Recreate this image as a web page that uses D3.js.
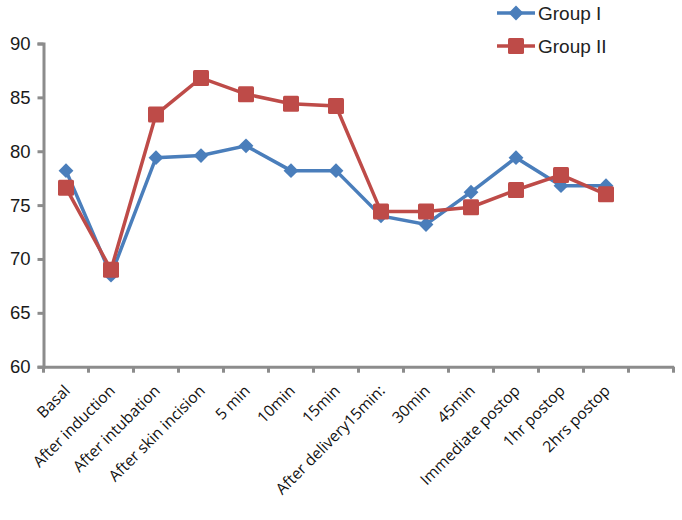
<!DOCTYPE html>
<html><head><meta charset="utf-8">
<script src="https://cdn.jsdelivr.net/npm/d3@7"></script>
<style>body{margin:0;background:#fff}</style>
</head><body>
<svg id="c" width="682" height="520"></svg>
<script>
const categories = ["Basal","After induction","After intubation","After skin incision","5 min","10min","15min","After delivery15min:","30min","45min","Immediate postop","1hr postop","2hrs postop",""];
const group1 = [78.2,68.5,79.4,79.6,80.5,78.2,78.2,74.0,73.2,76.2,79.4,76.8,76.8];
const group2 = [76.6,69.0,83.4,86.8,85.3,84.4,84.2,74.4,74.4,74.8,76.4,77.8,76.0];
const yTicks = [60,65,70,75,80,85,90];

const svg = d3.select("#c");
const x = d3.scaleBand().domain(categories.map((d,i)=>i)).range([43.5,673.5]);
const y = d3.scaleLinear().domain([60,90]).range([366.7,43.5]);
const axisColor = "#8c8c8c";

// y axis
const ya = svg.append("g").attr("transform","translate(43.5,0)")
  .call(d3.axisLeft(y).tickValues(yTicks).tickSize(6).tickPadding(7));
ya.select(".domain").attr("stroke",axisColor).attr("stroke-width",3);
ya.selectAll(".tick line").attr("stroke",axisColor).attr("stroke-width",3);
ya.selectAll(".tick text").attr("font-family","Liberation Sans, Arial, sans-serif").attr("font-size",18.5).attr("fill","#1a1a1a");

// x axis
const xa = svg.append("g").attr("transform","translate(0,366.7)")
  .call(d3.axisBottom(x).tickValues([]).tickSizeOuter(0));
xa.select(".domain").attr("stroke",axisColor).attr("stroke-width",3);
const edges = d3.range(categories.length+1).map(i=> i<categories.length ? x(i) : x(categories.length-1)+x.bandwidth());
xa.selectAll("line.edge").data(edges).enter().append("line")
  .attr("x1",d=>d).attr("x2",d=>d).attr("y1",0).attr("y2",6)
  .attr("stroke",axisColor).attr("stroke-width",3);
xa.selectAll("text.lab").data(categories).enter().append("text")
  .attr("transform",(d,i)=>`translate(${x(i)+x.bandwidth()/2+5},${25}) rotate(-45)`)
  .attr("text-anchor","end")
  .attr("font-family","Open Sans, Liberation Sans, sans-serif")
  .attr("font-size",15.6).attr("fill","#111").text(d=>d);

const cx = i => x(i)+x.bandwidth()/2;
const line = d3.line().x((d,i)=>cx(i)).y(d=>y(d));
const blue = "#4a7ebb", red = "#be4b48";

svg.append("path").datum(group1).attr("d",line).attr("fill","none").attr("stroke",blue).attr("stroke-width",3.5);
svg.selectAll("path.dm").data(group1).enter().append("path")
  .attr("d",d3.symbol(d3.symbolSquare,110)())
  .attr("transform",(d,i)=>`translate(${cx(i)},${y(d)}) rotate(45)`).attr("fill",blue);

svg.append("path").datum(group2).attr("d",line).attr("fill","none").attr("stroke",red).attr("stroke-width",3.5);
svg.selectAll("rect.sq").data(group2).enter().append("rect")
  .attr("x",(d,i)=>cx(i)-8).attr("y",d=>y(d)-8).attr("width",16).attr("height",16).attr("rx",1.5)
  .attr("fill",red);

// legend
const lg = svg.append("g");
lg.append("line").attr("x1",497).attr("x2",535).attr("y1",13).attr("y2",13).attr("stroke",blue).attr("stroke-width",3.5);
lg.append("path").attr("d",d3.symbol(d3.symbolSquare,110)()).attr("transform","translate(516,13) rotate(45)").attr("fill",blue);
lg.append("text").attr("x",538).attr("y",20).attr("font-family","Liberation Sans, Arial, sans-serif").attr("font-size",19).attr("fill","#222").text("Group I");
lg.append("line").attr("x1",497).attr("x2",535).attr("y1",46).attr("y2",46).attr("stroke",red).attr("stroke-width",3.5);
lg.append("rect").attr("x",508).attr("y",38).attr("width",16).attr("height",16).attr("rx",1.5).attr("fill",red);
lg.append("text").attr("x",538).attr("y",53).attr("font-family","Liberation Sans, Arial, sans-serif").attr("font-size",19).attr("fill","#222").text("Group II");
</script>
</body></html>
